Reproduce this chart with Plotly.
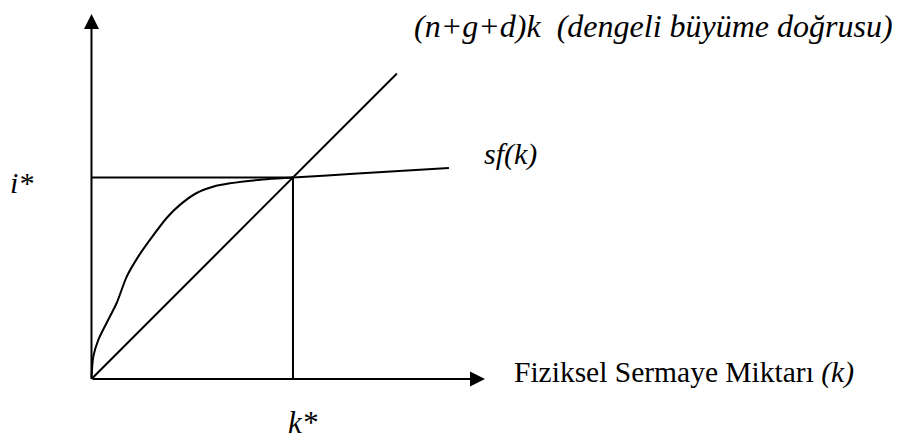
import plotly.graph_objects as go

# --- data (model units: k* = 1, i* = 1) ---
k_curve = [0, 0.009, 0.034, 0.075, 0.125, 0.175, 0.232, 0.290, 0.373, 0.439,
           0.522, 0.603, 0.687, 0.85, 1.0, 1.3, 1.774]
sf_vals = [0, 0.111, 0.194, 0.278, 0.377, 0.508, 0.607, 0.690, 0.799, 0.864,
           0.923, 0.954, 0.971, 0.99, 1.0, 1.018, 1.047]
k_line = [0, 1.516]
line_vals = [0, 1.516]
k_star = 1.0
i_star = 1.0
x_axis_end = 1.953
y_axis_end = 1.811

FONT = "Liberation Serif, serif"
BLACK = "#000000"

fig = go.Figure()

# sf(k) curve
fig.add_trace(go.Scatter(x=k_curve, y=sf_vals, mode="lines",
                         line=dict(color=BLACK, width=2, shape="spline", smoothing=0.8),
                         hoverinfo="skip", showlegend=False))
# (n+g+d)k line
fig.add_trace(go.Scatter(x=k_line, y=line_vals, mode="lines",
                         line=dict(color=BLACK, width=2),
                         hoverinfo="skip", showlegend=False))
# guide lines at steady state
fig.add_trace(go.Scatter(x=[0, k_star, k_star], y=[i_star, i_star, 0], mode="lines",
                         line=dict(color=BLACK, width=2),
                         hoverinfo="skip", showlegend=False))

# axes with arrowheads
for (x, y) in [(x_axis_end, 0), (0, y_axis_end)]:
    fig.add_annotation(x=x, y=y, ax=0, ay=0, xref="x", yref="y", axref="x", ayref="y",
                       text="", showarrow=True, arrowhead=2, arrowsize=1.5,
                       arrowwidth=2, arrowcolor=BLACK)

def label(text, x, y, xanchor="left", size=30):
    fig.add_annotation(x=x, y=y, xref="x", yref="y", text=text, showarrow=False,
                       xanchor=xanchor, yanchor="middle",
                       font=dict(family=FONT, size=size, color=BLACK))

label("<i>(n+g+d)k \u00a0(dengeli büyüme doğrusu)</i>", 1.590, 1.752, size=32)
label("<i>sf(k)</i>", 1.938, 1.117)
label("Fiziksel Sermaye Miktarı <i>(k)</i>", 2.085, 0.030, size=29.5)
label("<i>i*</i>", -0.345, 0.973, xanchor="center")
label("<i>k*</i>", 1.05, -0.215, xanchor="center", size=31)

fig.update_layout(
    width=917, height=441,
    margin=dict(l=0, r=0, t=0, b=0),
    paper_bgcolor="white", plot_bgcolor="white",
    xaxis=dict(range=[-0.454, 4.097], visible=False, fixedrange=True),
    yaxis=dict(range=[-0.308, 1.881], visible=False, fixedrange=True),
    showlegend=False,
)

fig.write_html("out.html", config={"displayModeBar": False, "staticPlot": True},
               post_script="document.body.style.margin='0';")
